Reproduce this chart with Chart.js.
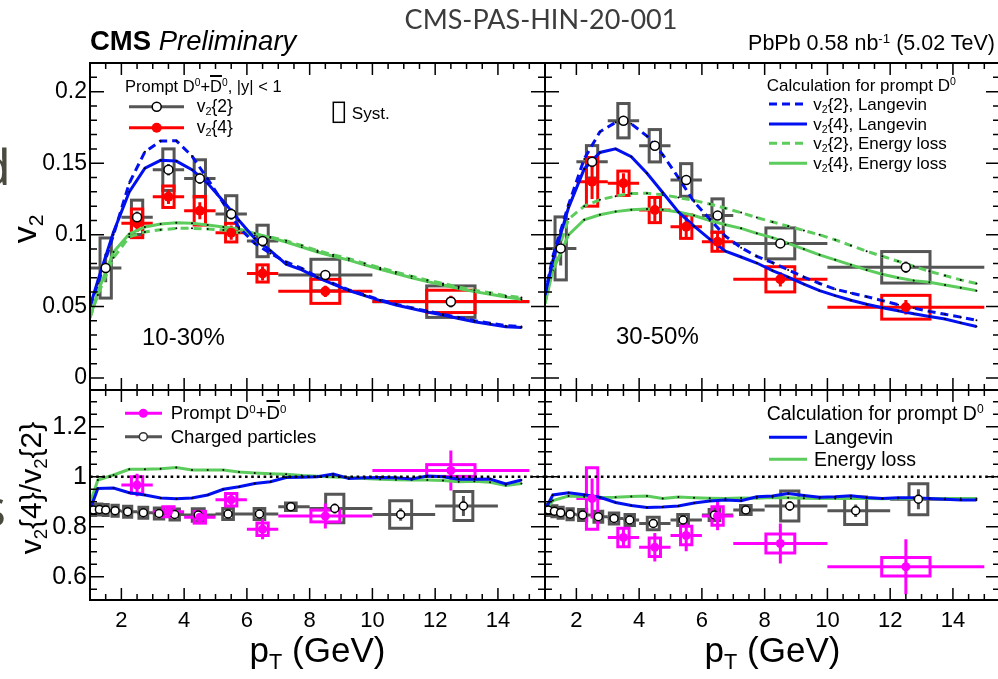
<!DOCTYPE html>
<html>
<head>
<meta charset="utf-8">
<title>Prompt D0 v2{2} and v2{4} in PbPb at 5.02 TeV</title>
<script src="https://cdn.jsdelivr.net/npm/chart.js@4.4.1/dist/chart.umd.min.js"></script>
<style>
  html, body { margin: 0; padding: 0; }
  body { width: 998px; height: 679px; overflow: hidden; position: relative; background: #fff;
         font-family: "Liberation Sans", Arial, Helvetica, sans-serif; color: #000; }
  canvas { position: absolute; }
  .t { position: absolute; white-space: nowrap; line-height: 1; }
  sub, sup { font-size: 0.62em; line-height: 0; position: relative; vertical-align: baseline; }
  sub { top: 0.32em; }
  sup { top: -0.55em; }
  .ob { text-decoration: overline; text-decoration-thickness: 1.6px; }
  .rot { transform: translate(-50%, -50%) rotate(-90deg); }
  svg { position: absolute; left: 0; top: 0; }
</style>
</head>
<body>
<canvas id="c1030" width="545" height="410" style="left:0;top:0"></canvas>
<canvas id="c3050" width="455" height="410" style="left:545px;top:0"></canvas>
<canvas id="r1030" width="545" height="309" style="left:0;top:370px"></canvas>
<canvas id="r3050" width="455" height="309" style="left:545px;top:370px"></canvas>

<svg width="998" height="679">
  <!-- v2 panel legend, 10-30% -->
  <line x1="129" y1="106.7" x2="184" y2="106.7" stroke="#555" stroke-width="3"/>
  <circle cx="156.7" cy="106.7" r="4.5" fill="#fff" stroke="#000" stroke-width="1.5"/>
  <line x1="129" y1="127.7" x2="184" y2="127.7" stroke="#ff0000" stroke-width="3"/>
  <circle cx="156.7" cy="127.7" r="5" fill="#ff0000"/>
  <rect x="333.3" y="102.3" width="11" height="20" fill="none" stroke="#000" stroke-width="1.5"/>
  <!-- model legend, 30-50% -->
  <line x1="769" y1="104" x2="807" y2="104" stroke="#0010f0" stroke-width="3" stroke-dasharray="8 5"/>
  <line x1="769" y1="124" x2="807" y2="124" stroke="#0010f0" stroke-width="3"/>
  <line x1="769" y1="143.3" x2="807" y2="143.3" stroke="#5ccc5c" stroke-width="3" stroke-dasharray="8 5"/>
  <line x1="769" y1="163.3" x2="807" y2="163.3" stroke="#5ccc5c" stroke-width="3"/>
  <!-- ratio panel legends -->
  <line x1="125" y1="413.3" x2="162" y2="413.3" stroke="#ff00ff" stroke-width="3"/>
  <circle cx="143.3" cy="413.3" r="4.5" fill="#ff00ff"/>
  <line x1="125" y1="436.7" x2="162" y2="436.7" stroke="#555" stroke-width="3"/>
  <circle cx="143.3" cy="436.7" r="4" fill="#fff" stroke="#333" stroke-width="1.5"/>
  <line x1="769" y1="437.3" x2="807" y2="437.3" stroke="#0010f0" stroke-width="3"/>
  <line x1="769" y1="459.3" x2="807" y2="459.3" stroke="#5ccc5c" stroke-width="3"/>
</svg>

<div class="t" style="left:-20px;top:141px;font-family:'Noto Sans';font-size:50px;color:#4b4a3f">d</div>
<div class="t" style="left:-18px;top:482px;font-family:'Noto Sans';font-size:50px;color:#4b4a3f">s</div>

<div class="t" style="left:541px;top:5px;transform:translateX(-50%);font-family:Lato,'Open Sans',sans-serif;font-size:27px;color:#3c3c3c">CMS-PAS-HIN-20-001</div>
<div class="t" style="left:90px;top:27px;font-size:27.5px"><b>CMS</b> <i>Preliminary</i></div>
<div class="t" style="right:3px;top:33px;font-size:21.5px">PbPb 0.58 nb<sup>-1</sup> (5.02 TeV)</div>

<div class="t" style="left:125px;top:78px;font-size:16.5px">Prompt D<sup>0</sup>+<span class="ob">D</span><sup>0</sup>, |y| &lt; 1</div>
<div class="t" style="left:196.7px;top:98px;font-size:17.5px">v<sub>2</sub>{2}</div>
<div class="t" style="left:196.7px;top:119px;font-size:17.5px">v<sub>2</sub>{4}</div>
<div class="t" style="left:351.7px;top:104.6px;font-size:17.2px">Syst.</div>
<div class="t" style="left:142px;top:325px;font-size:24px">10-30%</div>

<div class="t" style="left:766.7px;top:76.7px;font-size:17px">Calculation for prompt D<sup>0</sup></div>
<div class="t" style="left:813.3px;top:95.7px;font-size:17px">v<sub>2</sub>{2}, Langevin</div>
<div class="t" style="left:813.3px;top:115.7px;font-size:17px">v<sub>2</sub>{4}, Langevin</div>
<div class="t" style="left:813.3px;top:135px;font-size:17px">v<sub>2</sub>{2}, Energy loss</div>
<div class="t" style="left:813.3px;top:155px;font-size:17px">v<sub>2</sub>{4}, Energy loss</div>
<div class="t" style="left:616px;top:323.5px;font-size:24px">30-50%</div>

<div class="t" style="left:170.7px;top:404.2px;font-size:18.6px">Prompt D<sup>0</sup>+<span class="ob">D</span><sup>0</sup></div>
<div class="t" style="left:170.7px;top:427.6px;font-size:18.6px">Charged particles</div>
<div class="t" style="left:766.7px;top:403.7px;font-size:19.5px">Calculation for prompt D<sup>0</sup></div>
<div class="t" style="left:814px;top:427.7px;font-size:19.5px">Langevin</div>
<div class="t" style="left:814px;top:449.7px;font-size:19.5px">Energy loss</div>

<div class="t rot" style="left:24px;top:229px;font-size:34px">v<sub>2</sub></div>
<div class="t rot" style="left:31px;top:488px;font-size:30px">v<sub>2</sub>{4}/v<sub>2</sub>{2}</div>
<div class="t" style="left:317.5px;top:632px;transform:translateX(-50%);font-size:35px">p<sub>T</sub> (GeV)</div>
<div class="t" style="left:772.5px;top:632px;transform:translateX(-50%);font-size:35px">p<sub>T</sub> (GeV)</div>

<script>
// ---- axes ----
const PT_MIN = 1, PT_MAX = 15.5;
const V2_MIN = -0.0084, V2_MAX = 0.22;
const R_MIN = 0.507, R_MAX = 1.347;
const ptTickLabels = [2, 4, 6, 8, 10, 12, 14];
const v2TickLabels = [0, 0.05, 0.1, 0.15, 0.2];
const ratioTickLabels = [0.6, 0.8, 1, 1.2];

// ---- model calculations (sampled in pT) ----
const modelPt = [1.0, 1.25, 1.75, 2.25, 2.75, 3.25, 3.75, 4.25, 4.75, 5.25, 5.75, 6.25, 6.75, 7.25, 7.75,
                 8.25, 8.75, 9.25, 9.75, 10.25, 10.75, 11.25, 11.75, 12.25, 12.75, 13.25, 13.75, 14.25, 14.75];
// 10-30%
const langevinV22_1030 = [0.050, 0.066, 0.100, 0.136, 0.158, 0.1655, 0.1657, 0.155, 0.139, 0.122, 0.105, 0.094, 0.087, 0.081, 0.0765,
                          0.0705, 0.066, 0.0615, 0.058, 0.0545, 0.0515, 0.049, 0.0467, 0.0445, 0.0423, 0.040, 0.0383, 0.0365, 0.036];
const langevinV24_1030 = [0.050, 0.068, 0.102, 0.130, 0.1465, 0.152, 0.1515, 0.1455, 0.136, 0.1235, 0.110, 0.0975, 0.089, 0.0795, 0.0755,
                          0.070, 0.0655, 0.061, 0.0575, 0.054, 0.051, 0.0485, 0.046, 0.044, 0.0415, 0.0393, 0.0375, 0.0357, 0.0353];
const elossV22_1030 = [0.042, 0.058, 0.084, 0.0985, 0.102, 0.1035, 0.1045, 0.1045, 0.104, 0.1034, 0.1015, 0.0995, 0.0985, 0.0958, 0.0925,
                       0.089, 0.086, 0.0833, 0.080, 0.077, 0.074, 0.071, 0.0683, 0.066, 0.0635, 0.0613, 0.0595, 0.0575, 0.0562];
const elossV24_1030 = [0.042, 0.060, 0.088, 0.1005, 0.1055, 0.1075, 0.1085, 0.108, 0.1068, 0.1055, 0.104, 0.101, 0.098, 0.095, 0.0915,
                       0.088, 0.085, 0.0823, 0.079, 0.0759, 0.073, 0.070, 0.0673, 0.065, 0.0625, 0.0603, 0.0585, 0.0565, 0.055];
// 30-50%
const langevinV22_3050 = [0.058, 0.085, 0.121, 0.153, 0.172, 0.1785, 0.1775, 0.169, 0.156, 0.140, 0.123, 0.111, 0.099, 0.091, 0.085,
                          0.0805, 0.0755, 0.0705, 0.066, 0.062, 0.0593, 0.0568, 0.054, 0.0512, 0.0488, 0.0465, 0.0445, 0.0425, 0.0403];
const langevinV24_3050 = [0.058, 0.082, 0.119, 0.146, 0.1575, 0.160, 0.1545, 0.143, 0.1295, 0.116, 0.106, 0.097, 0.0885, 0.0845, 0.0803,
                          0.075, 0.0705, 0.0655, 0.061, 0.0575, 0.0543, 0.0515, 0.049, 0.047, 0.0448, 0.043, 0.0412, 0.0385, 0.036];
const elossV22_3050 = [0.052, 0.078, 0.111, 0.120, 0.1245, 0.127, 0.1288, 0.129, 0.128, 0.126, 0.124, 0.1215, 0.1185, 0.1155, 0.112,
                       0.109, 0.106, 0.103, 0.100, 0.0965, 0.0925, 0.0885, 0.085, 0.0815, 0.078, 0.0745, 0.0715, 0.0685, 0.066];
const elossV24_3050 = [0.052, 0.075, 0.100, 0.1105, 0.114, 0.1162, 0.1175, 0.118, 0.1175, 0.116, 0.1135, 0.110, 0.107, 0.1045, 0.101,
                       0.098, 0.094, 0.090, 0.086, 0.0825, 0.079, 0.0755, 0.0725, 0.070, 0.068, 0.0668, 0.065, 0.063, 0.061];
// v2{4}/v2{2}
const langevinRatio_1030 = [0.867, 0.953, 0.955, 0.936, 0.927, 0.915, 0.912, 0.915, 0.927, 0.95, 0.96, 0.973, 0.98, 0.997, 0.998,
                            1.0, 1.011, 0.993, 0.996, 0.997, 0.996, 0.991, 1.003, 1.0, 0.99, 0.99, 0.991, 0.971, 0.987];
const elossRatio_1030 = [0.893, 0.987, 1.007, 1.03, 1.03, 1.032, 1.037, 1.027, 1.027, 1.027, 1.019, 1.015, 1.012, 1.01, 1.005,
                         1.002, 0.999, 0.997, 0.993, 0.99, 0.988, 0.987, 0.987, 0.985, 0.98, 0.982, 0.978, 0.965, 0.973];
const langevinRatio_3050 = [0.867, 0.927, 0.936, 0.928, 0.918, 0.897, 0.885, 0.877, 0.879, 0.883, 0.895, 0.903, 0.907, 0.904, 0.92,
                            0.923, 0.933, 0.925, 0.918, 0.92, 0.924, 0.917, 0.913, 0.916, 0.916, 0.913, 0.91, 0.907, 0.907];
const elossRatio_3050 = [0.86, 0.905, 0.923, 0.92, 0.917, 0.918, 0.921, 0.923, 0.913, 0.919, 0.916, 0.914, 0.913, 0.915, 0.914,
                         0.917, 0.916, 0.914, 0.913, 0.913, 0.914, 0.913, 0.912, 0.913, 0.913, 0.913, 0.913, 0.913, 0.913];
const unityPt = [PT_MIN, PT_MAX];
const unityRatio = [1, 1];

// ---- prompt D0 measurements ----
const dPtV22 = [1.5, 2.5, 3.5, 4.5, 5.5, 6.5, 8.5, 12.5];
const dLoV22 = [1, 2, 3, 4, 5, 6, 7, 10];
const dHiV22 = [2, 3, 4, 5, 6, 7, 10, 15];
const dBoxV22 = [0.18, 0.18, 0.18, 0.18, 0.18, 0.18, 0.46, 0.77];
const dPtV24 = [2.5, 3.5, 4.5, 5.5, 6.5, 8.5, 12.5];
const dLoV24 = [2, 3, 4, 5, 6, 7, 10];
const dHiV24 = [3, 4, 5, 6, 7, 10, 15];
const dBoxV24 = [0.18, 0.18, 0.18, 0.18, 0.18, 0.46, 0.77];

const v22_1030 = [0.0768, 0.1122, 0.1455, 0.1394, 0.1145, 0.0957, 0.0719, 0.0533];
const v22Syst_1030 = [0.021, 0.012, 0.0145, 0.013, 0.0128, 0.011, 0.011, 0.011];
const v22Stat_1030 = [0.010, 0.004, 0.004, 0.004, 0.004, 0.004, 0.003, 0.004];
const v24_1030 = [0.108, 0.1266, 0.1168, 0.1015, 0.073, 0.0605, 0.0535];
const v24Syst_1030 = [0.010, 0.0075, 0.010, 0.0065, 0.006, 0.0084, 0.0078];
const v24Stat_1030 = [0.006, 0.005, 0.006, 0.005, 0.005, 0.004, 0.004];

const v22_3050 = [0.0905, 0.151, 0.1797, 0.1622, 0.1383, 0.1134, 0.094, 0.0773];
const v22Syst_3050 = [0.022, 0.0113, 0.012, 0.0113, 0.0114, 0.0117, 0.0108, 0.011];
const v22Stat_3050 = [0.012, 0.004, 0.003, 0.003, 0.003, 0.003, 0.003, 0.004];
const v24_3050 = [0.137, 0.136, 0.1173, 0.1057, 0.0952, 0.0689, 0.0494];
const v24Syst_3050 = [0.017, 0.0085, 0.0088, 0.0082, 0.0067, 0.0088, 0.0083];
const v24Stat_3050 = [0.012, 0.007, 0.008, 0.008, 0.007, 0.005, 0.005];

const dRatio_1030 = [0.967, 0.86, 0.838, 0.908, 0.79, 0.843, 1.025];
const dRatioSyst_1030 = [0.033, 0.02, 0.0235, 0.025, 0.025, 0.0235, 0.0235];
const dRatioStat_1030 = [0.045, 0.022, 0.02, 0.03, 0.04, 0.05, 0.08];
const dRatio_3050 = [0.913, 0.757, 0.718, 0.765, 0.843, 0.733, 0.64];
const dRatioSyst_3050 = [0.123, 0.037, 0.037, 0.037, 0.037, 0.038, 0.037];
const dRatioStat_3050 = [0.08, 0.035, 0.057, 0.063, 0.057, 0.08, 0.11];

// ---- charged particles ----
const chPt = [1.1, 1.3, 1.5, 1.8, 2.2, 2.7, 3.2, 3.7, 4.45, 5.4, 6.4, 7.4, 8.8, 10.9, 12.9];
const chLo = [1.0, 1.2, 1.4, 1.6, 2.0, 2.5, 3.0, 3.5, 4.0, 5.0, 6.0, 7.0, 8.0, 10.0, 12.0];
const chHi = [1.2, 1.4, 1.6, 2.0, 2.5, 3.0, 3.5, 4.0, 5.0, 6.0, 7.0, 8.0, 10.0, 12.0, 14.0];
const chBox = [0.08, 0.08, 0.08, 0.1, 0.13, 0.14, 0.15, 0.15, 0.19, 0.17, 0.17, 0.17, 0.29, 0.35, 0.3];
const chRatio_1030 = [0.867, 0.869, 0.867, 0.864, 0.86, 0.856, 0.853, 0.849, 0.847, 0.851, 0.851, 0.88, 0.873, 0.849, 0.883];
const chRatioSyst_1030 = [0.022, 0.022, 0.022, 0.022, 0.022, 0.022, 0.022, 0.022, 0.025, 0.022, 0.022, 0.015, 0.057, 0.055, 0.058];
const chRatio_3050 = [0.867, 0.862, 0.856, 0.85, 0.847, 0.84, 0.833, 0.827, 0.813, 0.827, 0.847, 0.867, 0.883, 0.864, 0.91];
const chRatioSyst_3050 = [0.022, 0.022, 0.022, 0.022, 0.022, 0.022, 0.022, 0.022, 0.025, 0.022, 0.022, 0.018, 0.06, 0.055, 0.062];
const chRatioStat = [0.003, 0.003, 0.003, 0.003, 0.003, 0.003, 0.003, 0.004, 0.004, 0.006, 0.008, 0.01, 0.02, 0.025, 0.04];

// ---- styles ----
const GRAY = '#555555', RED = '#ff0000', MAGENTA = '#ff00ff', BLUE = '#0010f0', GREEN = '#5ccc5c';

Chart.defaults.font.family = 'Liberation Sans';

const xy = (xs, ys) => xs.map((x, i) => ({ x, y: ys[i] }));

function curve(ys, color, dashed) {
  return { data: xy(modelPt, ys), showLine: true, borderColor: color, borderWidth: 3,
           borderDash: dashed ? [8, 5] : [], tension: 0,
           pointRadius: 1, pointHoverRadius: 1, pointBackgroundColor: '#000', pointBorderWidth: 0 };
}
function unity() {
  return { data: xy(unityPt, unityRatio), showLine: true, borderColor: '#000', borderWidth: 2.6,
           borderDash: [2.6, 3.6], pointRadius: 0 };
}
function openMarkers(xs, ys, r) {
  return { data: xy(xs, ys), showLine: false, pointStyle: 'circle', pointRadius: r, pointHoverRadius: r,
           pointBackgroundColor: '#fff', pointBorderColor: '#000', pointBorderWidth: 1.5 };
}
function fullMarkers(xs, ys, color, r) {
  return { data: xy(xs, ys), showLine: false, pointStyle: 'circle', pointRadius: r, pointHoverRadius: r,
           pointBackgroundColor: color, pointBorderColor: color, pointBorderWidth: 0 };
}

// systematic boxes, bin-width bars and statistical bars, drawn through the chart scales
function errorPlugin(series) {
  return {
    id: 'errorBoxes',
    beforeDatasetsDraw(chart) {
      const { ctx, chartArea: a } = chart, X = chart.scales.x, Y = chart.scales.y;
      ctx.save();
      ctx.beginPath(); ctx.rect(a.left, a.top, a.right - a.left, a.bottom - a.top); ctx.clip();
      series.forEach(s => {
        ctx.strokeStyle = s.color;
        ctx.lineWidth = 3;
        s.pt.forEach((p, i) => {
          const x0 = X.getPixelForValue(p - s.hw[i]), x1 = X.getPixelForValue(p + s.hw[i]);
          const y0 = Y.getPixelForValue(s.val[i] + s.syst[i]), y1 = Y.getPixelForValue(s.val[i] - s.syst[i]);
          ctx.strokeRect(x0, y0, x1 - x0, y1 - y0);
        });
        ctx.beginPath();
        s.pt.forEach((p, i) => {
          const xp = X.getPixelForValue(p), yp = Y.getPixelForValue(s.val[i]);
          ctx.moveTo(X.getPixelForValue(s.lo[i]), yp);
          ctx.lineTo(X.getPixelForValue(s.hi[i]), yp);
          ctx.moveTo(xp, Y.getPixelForValue(s.val[i] + s.stat[i]));
          ctx.lineTo(xp, Y.getPixelForValue(s.val[i] - s.stat[i]));
        });
        ctx.stroke();
      });
      ctx.restore();
    }
  };
}

// frame with inward ticks on all four sides
function framePlugin(yMajor, yMinorStep) {
  return {
    id: 'frame',
    afterDraw(chart) {
      const { ctx, chartArea: a } = chart, X = chart.scales.x, Y = chart.scales.y;
      ctx.save();
      ctx.strokeStyle = '#000';
      ctx.lineWidth = 1.5;
      ctx.beginPath();
      const xt = (v, len) => {
        const p = X.getPixelForValue(v);
        ctx.moveTo(p, a.bottom); ctx.lineTo(p, a.bottom - len);
        ctx.moveTo(p, a.top); ctx.lineTo(p, a.top + len);
      };
      const yt = (v, len) => {
        const p = Y.getPixelForValue(v);
        ctx.moveTo(a.left, p); ctx.lineTo(a.left + len, p);
        ctx.moveTo(a.right, p); ctx.lineTo(a.right - len, p);
      };
      for (let k = 3; k <= 30; k++) {
        const v = k * 0.5;
        xt(v, ptTickLabels.includes(v) ? 12 : 6);
      }
      const lo = Math.ceil(Y.min / yMinorStep - 1e-6), hi = Math.floor(Y.max / yMinorStep + 1e-6);
      for (let k = lo; k <= hi; k++) {
        const v = k * yMinorStep;
        const major = yMajor.some(m => Math.abs(m - v) < 1e-6);
        yt(v, major ? 14 : 7);
      }
      ctx.stroke();
      ctx.lineWidth = 2;
      ctx.strokeRect(a.left, a.top, a.right - a.left, a.bottom - a.top);
      ctx.restore();
    }
  };
}

function xScale(showLabels) {
  const s = { type: 'linear', min: PT_MIN, max: PT_MAX, display: showLabels,
              afterBuildTicks: ax => { ax.ticks = ptTickLabels.map(value => ({ value })); },
              grid: { display: false, drawTicks: false }, border: { display: false },
              ticks: { padding: 10, color: '#000', font: { family: 'Liberation Sans', size: 22, lineHeight: 1 },
                       maxRotation: 0, autoSkip: false, callback: value => String(value) } };
  if (showLabels) s.afterFit = ax => { ax.height = 79; };
  return s;
}
function yScale(min, max, labels, showLabels, fontSize) {
  const s = { type: 'linear', min, max, display: showLabels, position: 'left',
              afterBuildTicks: ax => { ax.ticks = labels.map(value => ({ value })); },
              grid: { display: false, drawTicks: false }, border: { display: false },
              ticks: { padding: 3, color: '#000', autoSkip: false, callback: value => String(value),
                       font: { family: 'Liberation Sans', size: fontSize, lineHeight: 1 } } };
  if (showLabels) s.afterFit = ax => { ax.width = 90; };
  return s;
}

function panel(id, padding, showX, showY, yMin, yMax, yLabels, yMinorStep, yFont, datasets, series) {
  return new Chart(document.getElementById(id), {
    type: 'scatter',
    data: { datasets },
    options: {
      responsive: false, animation: false, devicePixelRatio: 1,
      layout: { padding, autoPadding: false },
      events: [],
      plugins: { legend: { display: false }, tooltip: { enabled: false } },
      scales: { x: xScale(showX), y: yScale(yMin, yMax, yLabels, showY, yFont) }
    },
    plugins: [errorPlugin(series), framePlugin(yLabels, yMinorStep)]
  });
}

// v2, 10-30%
panel('c1030', { left: 0, top: 63, right: 0, bottom: 20 }, false, true, V2_MIN, V2_MAX, v2TickLabels, 0.01, 23, [
  openMarkers(dPtV22, v22_1030, 4.5),
  fullMarkers(dPtV24, v24_1030, RED, 5),
  curve(langevinV22_1030, BLUE, true),
  curve(langevinV24_1030, BLUE, false),
  curve(elossV22_1030, GREEN, true),
  curve(elossV24_1030, GREEN, false)
], [
  { pt: dPtV22, val: v22_1030, syst: v22Syst_1030, stat: v22Stat_1030, lo: dLoV22, hi: dHiV22, hw: dBoxV22, color: GRAY },
  { pt: dPtV24, val: v24_1030, syst: v24Syst_1030, stat: v24Stat_1030, lo: dLoV24, hi: dHiV24, hw: dBoxV24, color: RED }
]);

// v2, 30-50%
panel('c3050', { left: 0, top: 63, right: 0, bottom: 20 }, false, false, V2_MIN, V2_MAX, v2TickLabels, 0.01, 23, [
  openMarkers(dPtV22, v22_3050, 4.5),
  fullMarkers(dPtV24, v24_3050, RED, 5),
  curve(langevinV22_3050, BLUE, true),
  curve(langevinV24_3050, BLUE, false),
  curve(elossV22_3050, GREEN, true),
  curve(elossV24_3050, GREEN, false)
], [
  { pt: dPtV22, val: v22_3050, syst: v22Syst_3050, stat: v22Stat_3050, lo: dLoV22, hi: dHiV22, hw: dBoxV22, color: GRAY },
  { pt: dPtV24, val: v24_3050, syst: v24Syst_3050, stat: v24Stat_3050, lo: dLoV24, hi: dHiV24, hw: dBoxV24, color: RED }
]);

// v2{4}/v2{2}, 10-30%
panel('r1030', { left: 0, top: 20, right: 0, bottom: 0 }, true, true, R_MIN, R_MAX, ratioTickLabels, 0.05, 25, [
  fullMarkers(dPtV24, dRatio_1030, MAGENTA, 4.5),
  openMarkers(chPt, chRatio_1030, 4),
  unity(),
  curve(langevinRatio_1030, BLUE, false),
  curve(elossRatio_1030, GREEN, false)
], [
  { pt: chPt, val: chRatio_1030, syst: chRatioSyst_1030, stat: chRatioStat, lo: chLo, hi: chHi, hw: chBox, color: GRAY },
  { pt: dPtV24, val: dRatio_1030, syst: dRatioSyst_1030, stat: dRatioStat_1030, lo: dLoV24, hi: dHiV24, hw: dBoxV24, color: MAGENTA }
]);

// v2{4}/v2{2}, 30-50%
panel('r3050', { left: 0, top: 20, right: 0, bottom: 0 }, true, false, R_MIN, R_MAX, ratioTickLabels, 0.05, 25, [
  fullMarkers(dPtV24, dRatio_3050, MAGENTA, 4.5),
  openMarkers(chPt, chRatio_3050, 4),
  unity(),
  curve(langevinRatio_3050, BLUE, false),
  curve(elossRatio_3050, GREEN, false)
], [
  { pt: chPt, val: chRatio_3050, syst: chRatioSyst_3050, stat: chRatioStat, lo: chLo, hi: chHi, hw: chBox, color: GRAY },
  { pt: dPtV24, val: dRatio_3050, syst: dRatioSyst_3050, stat: dRatioStat_3050, lo: dLoV24, hi: dHiV24, hw: dBoxV24, color: MAGENTA }
]);
</script>
</body>
</html>
